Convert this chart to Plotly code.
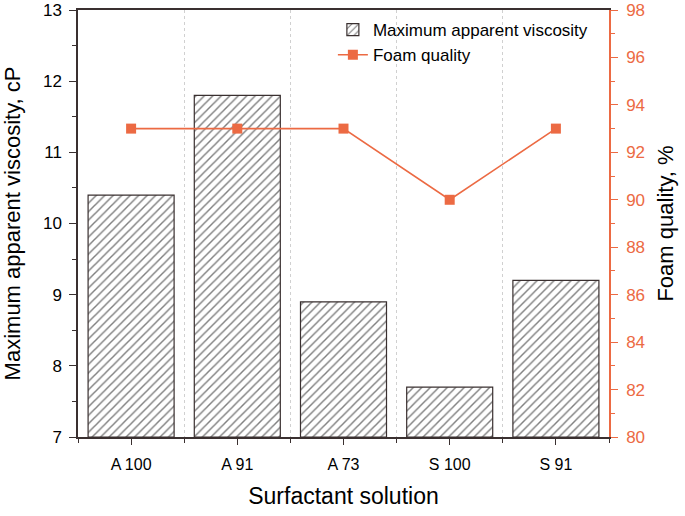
import plotly.graph_objects as go

categories = ["A 100", "A 91", "A 73", "S 100", "S 91"]
viscosity = [10.4, 11.8, 8.9, 7.7, 9.2]
foam_quality = [93, 93, 93, 90, 93]

xpos = list(range(len(categories)))
orange = "#EC6A43"
dark = "#3a3030"

fig = go.Figure()
fig.add_trace(go.Bar(
    x=xpos, y=[v - 7 for v in viscosity], base=7, width=0.81,
    name="Maximum apparent viscosity",
    marker=dict(color="white", line=dict(color=dark, width=1.2),
                pattern=dict(shape="/", fgcolor="#000000", bgcolor="white", size=6, solidity=0.24)),
    yaxis="y",
))
fig.add_trace(go.Scatter(
    x=xpos, y=foam_quality, name="Foam quality", mode="lines+markers",
    line=dict(color=orange, width=1.6),
    marker=dict(symbol="square", size=10, color=orange),
    yaxis="y2",
))

font = "Liberation Sans, Arial, sans-serif"
fig.update_layout(
    width=685, height=516,
    margin=dict(l=78, r=76, t=10, b=79),
    plot_bgcolor="white", paper_bgcolor="white",
    font=dict(family=font, size=16, color="black"),
    showlegend=True,
    legend=dict(x=0.48, y=0.995, xanchor="left", yanchor="top", bgcolor="rgba(0,0,0,0)",
                font=dict(size=17), itemwidth=30, tracegroupgap=0),
    xaxis=dict(
        range=[-0.5, 4.5], tickvals=xpos, ticktext=categories, automargin=False,
        showline=True, linecolor=dark, linewidth=1.5, mirror=True,
        ticks="outside", ticklen=6, tickcolor=dark, showgrid=False, zeroline=False,
        ticklabelstandoff=6,
        minor=dict(tick0=0.5, dtick=1, ticks="outside", ticklen=4, tickcolor=dark,
                   showgrid=True, gridcolor="#d0d0d0", griddash="dot", gridwidth=1),
        title=dict(text="Surfactant solution", font=dict(size=23), standoff=16),
        tickfont=dict(size=16),
    ),
    yaxis=dict(
        range=[7, 13], dtick=1, showline=True, linecolor=dark, linewidth=1.5, automargin=False,
        ticks="outside", ticklen=7, tickcolor=dark, showgrid=False, zeroline=False,
        ticklabelstandoff=4,
        minor=dict(dtick=0.5, ticks="outside", ticklen=4, tickcolor=dark, showgrid=False),
        title=dict(text="Maximum apparent viscosity, cP", font=dict(size=22), standoff=20),
        tickfont=dict(size=17),
    ),
    yaxis2=dict(
        range=[80, 98], dtick=2, overlaying="y", side="right", automargin=False,
        showline=True, linecolor=orange, linewidth=1.5,
        ticks="outside", ticklen=7, tickcolor=orange, showgrid=False, zeroline=False,
        ticklabelstandoff=5,
        minor=dict(dtick=1, ticks="outside", ticklen=4, tickcolor=orange, showgrid=False),
        tickfont=dict(size=17, color=orange),
        title=dict(text="Foam quality, %", font=dict(size=22, color="black"), standoff=14),
    ),
)

fig.write_html("out.html", config={"displayModeBar": False},
               post_script="document.body.style.margin='0';")
